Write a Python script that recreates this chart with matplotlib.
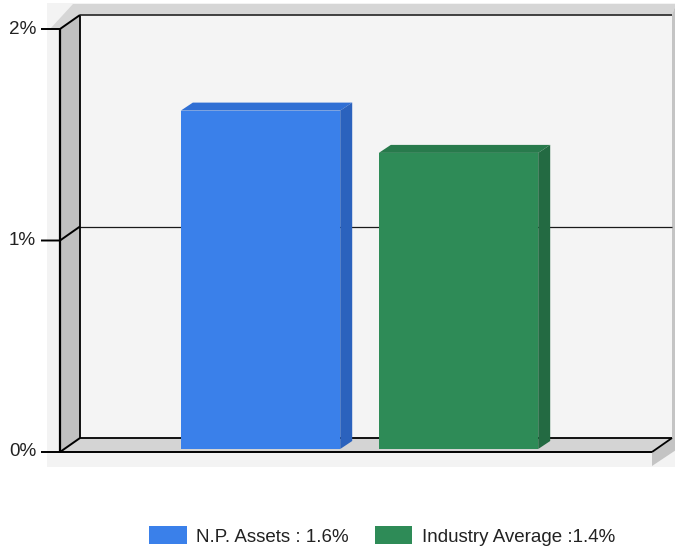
import matplotlib
matplotlib.use("Agg")
import matplotlib.pyplot as plt
from matplotlib.patches import Polygon, Patch
from matplotlib.lines import Line2D
from matplotlib.transforms import IdentityTransform, offset_copy

# ---- data ----
categories = ["N.P. Assets", "Industry Average"]
values = [1.6, 1.4]
legend_labels = ["N.P. Assets : 1.6%", "Industry Average :1.4%"]
yticks = [0, 1, 2]
ytick_labels = ["0%", "1%", "2%"]
front_colors = ["#3a80ea", "#2e8b57"]
top_colors = ["#306fd4", "#287a4c"]
side_colors = ["#2b62bd", "#236a42"]

plt.rcParams["font.family"] = ["Liberation Sans", "DejaVu Sans"]

W, H = 675, 549
fig = plt.figure(figsize=(W / 100, H / 100), dpi=100)
fig.patch.set_facecolor("white")
ax = fig.add_axes([60 / W, (H - 452) / H, 592 / W, 423 / H])
ax.set_xlim(-0.99, 2.0)
ax.set_ylim(0, 2)
ax.axis("off")

DX, DY = 20, 14          # wall depth (px)
BF = (4.5, 3)            # bar front offset (px)
BB = (16.5, 11)          # bar back offset (px)
BAR_W = 0.805

T = ax.transData
ident = IdentityTransform()


def P(x, y, ox=0, oy=0):
    px, py = T.transform((x, y))
    return (px + ox, py + oy)


def poly(pts, fc, z=1):
    fig.add_artist(Polygon(pts, closed=True, facecolor=fc, edgecolor="none",
                           linewidth=0, transform=ident, zorder=z, clip_on=False))


def line(pts, color="black", lw=1.3, z=3):
    xs, ys = zip(*pts)
    fig.add_artist(Line2D(xs, ys, color=color, linewidth=lw, transform=ident,
                          zorder=z, clip_on=False, solid_capstyle="butt"))


x0, x1 = ax.get_xlim()
y0, y1 = ax.get_ylim()

# background / frame
bl = P(x0, y0, -13, -15)
tr = P(x1, y1, DX + 3, DY + 12)
poly([bl, (tr[0], bl[1]), tr, (bl[0], tr[1])], "#f3f3f3", z=0.5)
poly([P(x0, y1, -10, 0), P(x0, y1, DX - 7, DY + 11), P(x1, y1, DX + 4, DY + 11),
      P(x1, y1, DX, DY), P(x0, y1, DX, DY), P(x0, y1)], "#d6d6d6", z=0.6)
poly([P(x1, y1, DX, DY), P(x1, y1, DX + 4, DY + 11), P(x1, y0, DX + 4, 2),
      P(x1, y0, 0, -14), P(x1, y0), P(x1, y0, DX, DY)], "#c4c4c4", z=0.6)
# walls
poly([P(x0, y0, DX, DY), P(x0, y1, DX, DY), P(x1, y1, DX, DY), P(x1, y0, DX, DY)], "#f4f4f4", z=1)
poly([P(x0, y0), P(x0, y1), P(x0, y1, DX, DY), P(x0, y0, DX, DY)], "#c0c0c0", z=1)
poly([P(x0, y0), P(x0, y0, DX, DY), P(x1, y0, DX, DY), P(x1, y0)], "#d4d4d4", z=1)

# frame lines
line([P(x0, y0), P(x0, y1)], lw=1.6)
line([P(x0, y0, DX, DY), P(x0, y1, DX, DY)])
line([P(x0, y1, DX, DY), P(x1, y1, DX, DY)], color="#333333")
line([P(x0, y0, DX, DY), P(x1, y0, DX, DY)])
line([P(x1, y0), P(x1, y0, DX, DY)])
for v in yticks:
    line([P(x0, v, -19, 0), P(x0, v), P(x0, v, DX, DY)], lw=1.4)
    if 0 < v < y1:
        line([P(x0, v, DX, DY), P(x1, v, DX, DY)], color="#1a1a1a", lw=0.9, z=2)
line([P(x0, y0), P(x1, y0)], lw=1.4)

# tick labels
lab_tr = offset_copy(ax.transData, fig=fig, x=-24, y=0, units="dots")
for v, lab in zip(yticks, ytick_labels):
    ax.text(x0, v, lab, transform=lab_tr, ha="right", va="center",
            fontsize=13.6, color="#222222", clip_on=False)

# bars
for i, (v, fc, tc, sc) in enumerate(zip(values, front_colors, top_colors, side_colors)):
    xl, xr = i - BAR_W / 2, i + BAR_W / 2
    poly([P(xl, v, *BF), P(xl, v, *BB), P(xr, v, *BB), P(xr, v, *BF)], tc, z=4)
    poly([P(xr, 0, *BF), P(xr, v, *BF), P(xr, v, *BB), P(xr, 0, *BB)], sc, z=4)
    poly([P(xl, 0, *BF), P(xl, v, *BF), P(xr, v, *BF), P(xr, 0, *BF)], fc, z=5)

# legend
handles = [Patch(facecolor=c, edgecolor="none") for c in front_colors]
fig.legend(handles, legend_labels, loc="center", bbox_to_anchor=(382 / W, 1 - 536 / H),
           ncol=2, frameon=False, fontsize=13.5, handlelength=2.0, handleheight=1.05,
           handletextpad=0.5, columnspacing=1.4, labelcolor="#222222")

fig.savefig("out.png", dpi=100)
